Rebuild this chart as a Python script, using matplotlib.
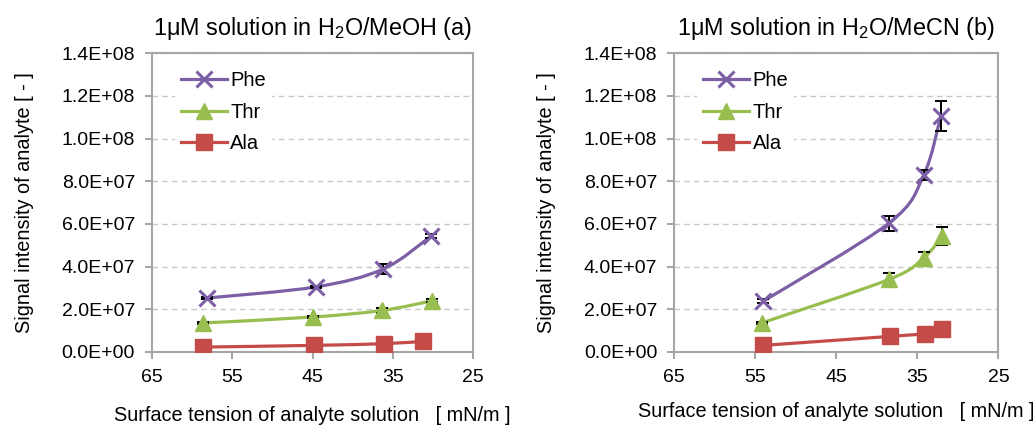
#!/usr/bin/env python3
"""Signal intensity vs surface tension, MeOH (a) and MeCN (b) panels."""

import matplotlib
matplotlib.use("Agg")
import matplotlib.pyplot as plt
import numpy as np
from matplotlib.lines import Line2D
from matplotlib.patches import PathPatch
from matplotlib.path import Path
from matplotlib.ticker import FuncFormatter

plt.rcParams["font.family"] = ["Liberation Sans", "DejaVu Sans"]
plt.rcParams["mathtext.fontset"] = "custom"
plt.rcParams["mathtext.rm"] = "Liberation Sans"
plt.rcParams["mathtext.it"] = "Liberation Sans:italic"

# ---- data: panel (a) H2O/MeOH ----
meoh_phe_x = [58.1, 44.6, 36.2, 30.3]
meoh_phe_y = [25.3e6, 30.5e6, 38.9e6, 54.2e6]
meoh_phe_err = [0.6e6, 0.5e6, 2.5e6, 1.0e6]
meoh_thr_x = [58.6, 44.9, 36.3, 30.1]
meoh_thr_y = [13.6e6, 16.4e6, 19.5e6, 24.0e6]
meoh_thr_err = [0.3e6, 0.3e6, 1.0e6, 0.8e6]
meoh_ala_x = [58.6, 44.8, 36.1, 31.2]
meoh_ala_y = [2.3e6, 3.1e6, 3.9e6, 5.0e6]
meoh_ala_err = [0.2e6, 0.2e6, 0.2e6, 0.2e6]

# ---- data: panel (b) H2O/MeCN ----
mecn_phe_x = [54.0, 38.5, 34.2, 32.1]
mecn_phe_y = [23.8e6, 60.4e6, 83.0e6, 110.6e6]
mecn_phe_err = [1.0e6, 3.5e6, 2.2e6, 7.2e6]
mecn_thr_x = [54.2, 38.5, 34.2, 31.9]
mecn_thr_y = [13.6e6, 34.0e6, 44.2e6, 54.4e6]
mecn_thr_err = [0.5e6, 3.1e6, 2.8e6, 4.2e6]
mecn_ala_x = [54.0, 38.4, 34.1, 32.0]
mecn_ala_y = [3.1e6, 7.3e6, 8.6e6, 10.8e6]
mecn_ala_err = [0.3e6, 0.5e6, 0.5e6, 0.8e6]

x_ticks = [65, 55, 45, 35, 25]
y_ticks = [0, 2e7, 4e7, 6e7, 8e7, 1.0e8, 1.2e8, 1.4e8]

PHE = "#7D5FA6"
THR = "#98BE50"
ALA = "#C44B47"
SPINE = "#A6A6A6"
LW = 2.3


def smooth_path(xs, ys):
    # Excel-style smoothed line: cubic Bezier through points (Catmull-Rom)
    p = np.column_stack([xs, ys]).astype(float)
    n = len(p)
    verts = [p[0]]
    codes = [Path.MOVETO]
    for i in range(n - 1):
        p_prev = p[i - 1] if i > 0 else p[i]
        p_next2 = p[i + 2] if i + 2 < n else p[i + 1]
        c1 = p[i] + (p[i + 1] - p_prev) / 6.0
        c2 = p[i + 1] - (p_next2 - p[i]) / 6.0
        verts += [c1, c2, p[i + 1]]
        codes += [Path.CURVE4] * 3
    return Path(verts, codes)


def draw_series(ax, xs, ys, err, color, marker, ms, mew):
    ax.add_patch(PathPatch(smooth_path(xs, ys), fill=False, edgecolor=color,
                           lw=LW, zorder=3, capstyle="round"))
    ax.errorbar(xs, ys, yerr=err, fmt="none", ecolor="black", elinewidth=1.4,
                capsize=4, capthick=1.4, zorder=3.5)
    ax.plot(xs, ys, linestyle="none", marker=marker, color=color,
            markersize=ms, markeredgewidth=mew, zorder=4)


fig = plt.figure(figsize=(10.33, 4.25), dpi=100)
ax_a = fig.add_axes([0.1469, 0.1718, 0.3113, 0.7028])
ax_b = fig.add_axes([0.6525, 0.1718, 0.3140, 0.7028])

panels = [
    (ax_a, r"1μM solution in H$_2$O/MeOH (a)", 15,
     [(meoh_phe_x, meoh_phe_y, meoh_phe_err), (meoh_thr_x, meoh_thr_y, meoh_thr_err),
      (meoh_ala_x, meoh_ala_y, meoh_ala_err)]),
    (ax_b, r"1μM solution in H$_2$O/MeCN (b)", 12,
     [(mecn_phe_x, mecn_phe_y, mecn_phe_err), (mecn_thr_x, mecn_thr_y, mecn_thr_err),
      (mecn_ala_x, mecn_ala_y, mecn_ala_err)]),
]

styles = [(PHE, "x", 11, 2.2, "Phe"), (THR, "^", 12, 1.0, "Thr"), (ALA, "s", 11, 1.0, "Ala")]

for ax, title, lpad, series in panels:
    for (xs, ys, err), (color, marker, ms, mew, _) in zip(series, styles):
        draw_series(ax, xs, ys, err, color, marker, ms, mew)

    ax.set_xlim(65, 25)
    ax.set_ylim(0, 1.4e8)
    ax.set_xticks(x_ticks)
    ax.set_yticks(y_ticks)
    ax.yaxis.set_major_formatter(FuncFormatter(lambda v, _: f"{v:.1E}"))
    ax.grid(axis="y", linestyle=(0, (4, 3)), color="#C8C8C8", lw=1.0, zorder=0)
    ax.set_axisbelow(True)
    for s in ax.spines.values():
        s.set_color(SPINE)
        s.set_linewidth(1.5)
    ax.tick_params(direction="out", color=SPINE, width=1.5, length=5,
                   labelsize=14, pad=7)

    ax.set_title(title, fontsize=16.8, pad=13)
    ax.set_xlabel("Surface tension of analyte solution   [ mN/m ]",
                  fontsize=14.3, labelpad=lpad)
    ax.set_ylabel("Signal intensity of analyte [ - ]", fontsize=14.3, labelpad=20)

    handles = [Line2D([], [], color=c, marker=m, markersize=ms, markeredgewidth=mew,
                      lw=LW, label=lab) for c, m, ms, mew, lab in styles]
    leg = ax.legend(handles=handles, loc="upper left", bbox_to_anchor=(0.04, 0.993),
                    fontsize=14.5, frameon=True, handlelength=2.3, handletextpad=0.15,
                    labelspacing=0.6, borderpad=0.3, fancybox=False)
    leg.get_frame().set_facecolor("white")
    leg.get_frame().set_edgecolor("none")
    leg.get_frame().set_alpha(1.0)

fig.savefig("out.png", dpi=100)
